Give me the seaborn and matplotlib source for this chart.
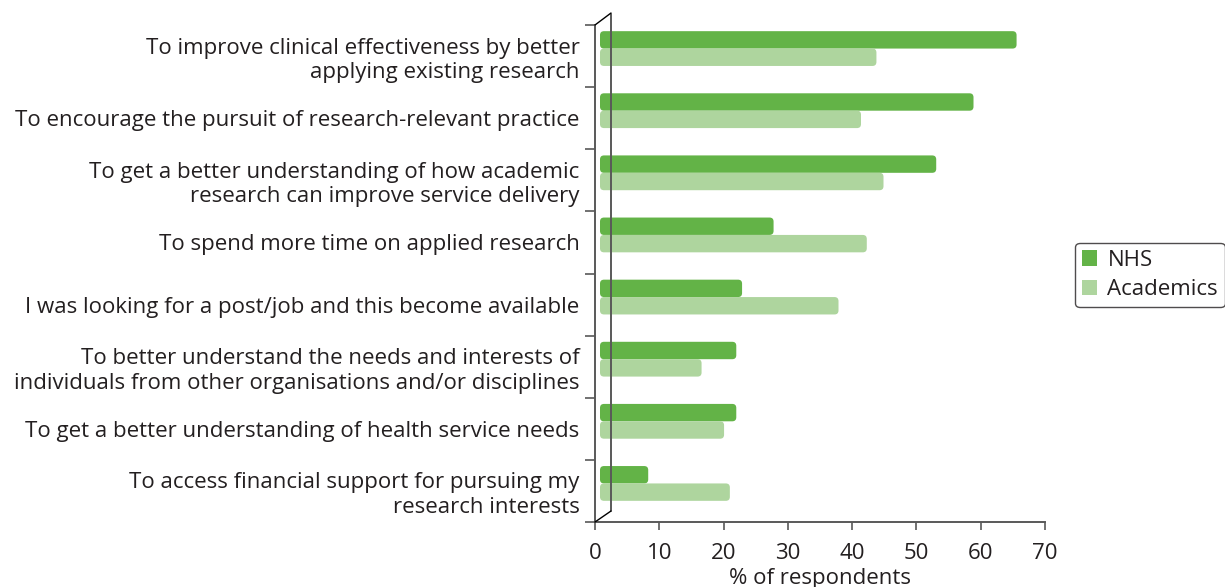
import matplotlib
matplotlib.use("Agg")
import matplotlib.pyplot as plt
from matplotlib.transforms import ScaledTranslation
from matplotlib.lines import Line2D
from matplotlib.patches import Patch, FancyBboxPatch
import seaborn as sns
import pandas as pd

reasons = [
    "To improve clinical effectiveness by better\napplying existing research",
    "To encourage the pursuit of research-relevant practice",
    "To get a better understanding of how academic\nresearch can improve service delivery",
    "To spend more time on applied research",
    "I was looking for a post/job and this become available",
    "To better understand the needs and interests of\nindividuals from other organisations and/or disciplines",
    "To get a better understanding of health service needs",
    "To access financial support for pursuing my\nresearch interests",
]
groups = ["NHS", "Academics"]
nhs_pct = [64.8, 58.1, 52.3, 27.0, 22.1, 21.2, 21.2, 7.5]
academics_pct = [43.0, 40.6, 44.1, 41.5, 37.1, 15.8, 19.3, 20.2]
x_ticks = [0, 10, 20, 30, 40, 50, 60, 70]
x_label = "% of respondents"

colors = {"NHS": "#63b347", "Academics": "#aed59e"}
text_color = "#231f20"
axis_color = "#595959"
FS = 16

df = pd.DataFrame({
    "reason": reasons * 2,
    "group": [groups[0]] * len(reasons) + [groups[1]] * len(reasons),
    "pct": nhs_pct + academics_pct,
})

sns.set_theme(style="white")
plt.rcParams["font.family"] = ["Open Sans", "DejaVu Sans"]

W, H, DPI = 1225, 587, 100
fig = plt.figure(figsize=(W / DPI, H / DPI), dpi=DPI)
left, right, bottom, top = 595, 1045, 522, 25
ax = fig.add_axes([left / W, 1 - bottom / H, (right - left) / W, (bottom - top) / H])

sns.barplot(data=df, y="reason", x="pct", hue="group", orient="h",
            order=reasons, hue_order=groups, palette=colors, width=0.56,
            saturation=1, legend=False, ax=ax, linewidth=0)

ax.set_xlim(0, 70)
ax.set_ylim(len(reasons) - 0.5, -0.5)

# bars sit at mid-depth of the 3D box: shift them right and up,
# and give them softly rounded ends
depth = ScaledTranslation(5 / DPI, 7.5 / DPI, fig.dpi_scale_trans)
px_x = (right - left) / 70.0               # pixels per x unit
px_y = (bottom - top) / len(reasons)       # pixels per y unit
radius_px = 4.0
for p in list(ax.patches):
    x0, y0 = p.get_x(), p.get_y()
    w, h = p.get_width(), p.get_height()
    fc = p.get_facecolor()
    p.remove()
    rounded = FancyBboxPatch(
        (x0, y0), w, h,
        boxstyle=f"round,pad=0,rounding_size={radius_px / px_x}",
        mutation_aspect=px_x / px_y,
        facecolor=fc, edgecolor="none", transform=ax.transData + depth)
    ax.add_patch(rounded)

ax.set_xticks(x_ticks)
ax.set_xticklabels([str(t) for t in x_ticks], fontsize=FS, color=text_color)
ax.set_yticks(range(len(reasons)))
ax.set_yticklabels(reasons, fontsize=FS, color=text_color, linespacing=1.22,
                   ha="right")
ax.set_yticks([i - 0.5 for i in range(len(reasons) + 1)], minor=True)
ax.tick_params(axis="y", which="major", length=0, pad=11)
ax.tick_params(axis="y", which="minor", length=7, width=1.2, color=axis_color,
               left=True, direction="out")
ax.tick_params(axis="x", length=6, width=1.2, color=axis_color, bottom=True,
               direction="out", pad=9)
ax.set_xlabel(x_label, fontsize=FS, color=text_color, labelpad=3)
ax.set_ylabel("")

for s in ["top", "right"]:
    ax.spines[s].set_visible(False)
for s in ["left", "bottom"]:
    ax.spines[s].set_color(axis_color)
    ax.spines[s].set_linewidth(1.4)

# back wall of the 3D box
back = ax.transAxes + ScaledTranslation(16 / DPI, 11.5 / DPI, fig.dpi_scale_trans)
ax.add_line(Line2D([0, 0], [0, 1], transform=back, color=axis_color, lw=1.4,
                   clip_on=False))
for yy in (0, 1):
    fig.add_artist(Line2D([left / W, (left + 16) / W],
                          [1 - (bottom if yy == 0 else top) / H,
                           1 - ((bottom - 11) if yy == 0 else (top - 12)) / H],
                          color="black", lw=1.0))

handles = [Patch(facecolor=colors[g], edgecolor="none", label=g) for g in groups]
leg = fig.legend(handles=handles, loc="center",
                 bbox_to_anchor=(1150 / W, 1 - 275 / H), fontsize=FS,
                 frameon=True, fancybox=True, handlelength=0.7,
                 handleheight=0.7, handletextpad=0.45, labelspacing=0.4,
                 borderpad=0.3, borderaxespad=0, labelcolor=text_color)
leg.get_frame().set_edgecolor("#231f20")
leg.get_frame().set_linewidth(1.0)

fig.savefig("out.png", dpi=DPI, facecolor="white")
